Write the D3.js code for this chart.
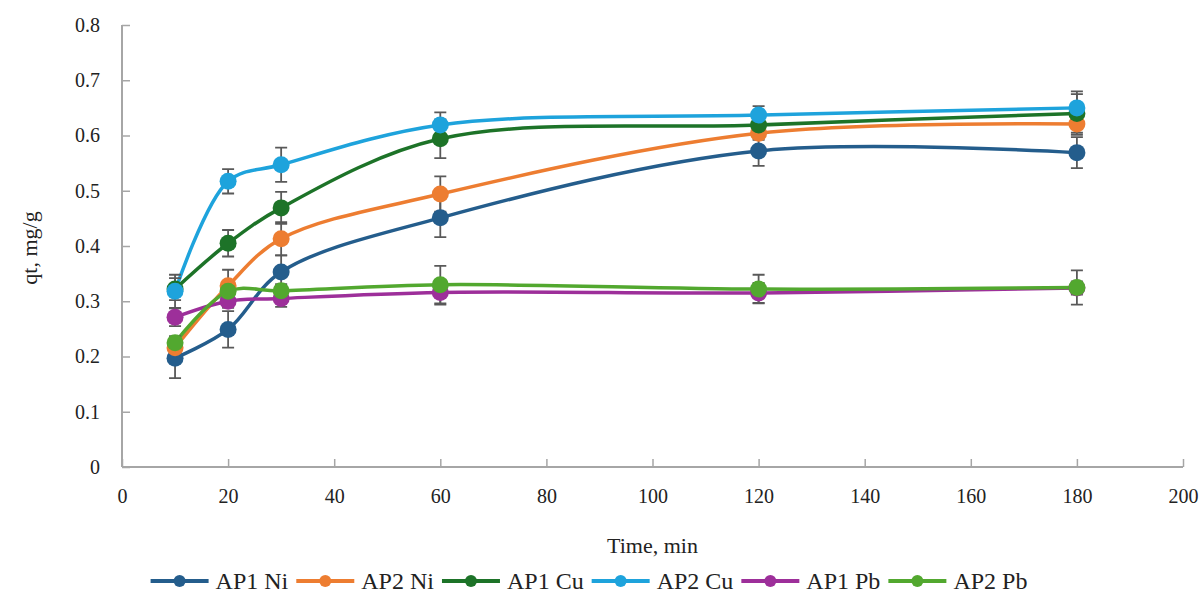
<!DOCTYPE html>
<html>
<head>
<meta charset="utf-8">
<script src="https://cdn.jsdelivr.net/npm/d3@7"></script>
<style>
  body { margin: 0; background: #fff; }
</style>
</head>
<body>
<svg id="chart" width="1203" height="603"></svg>
<script>
// time points (min)
const times = [10, 20, 30, 60, 120, 180];

const seriesNames = ["AP1 Ni", "AP2 Ni", "AP1 Cu", "AP2 Cu", "AP1 Pb", "AP2 Pb"];
const seriesColors = ["#245d8c", "#ed7d31", "#1d7328", "#1ea3dc", "#9d2f9a", "#52a82f"];

// qt values, mg/g
const ap1Ni = [0.197, 0.249, 0.353, 0.451, 0.572, 0.569];
const ap2Ni = [0.216, 0.328, 0.413, 0.494, 0.604, 0.621];
const ap1Cu = [0.322, 0.405, 0.469, 0.594, 0.619, 0.640];
const ap2Cu = [0.318, 0.517, 0.547, 0.619, 0.637, 0.650];
const ap1Pb = [0.271, 0.300, 0.305, 0.316, 0.315, 0.324];
const ap2Pb = [0.225, 0.318, 0.319, 0.330, 0.322, 0.325];

// error bar half widths
const ap1NiErr = [0.036, 0.033, 0.030, 0.035, 0.027, 0.028];
const ap2NiErr = [0.012, 0.029, 0.030, 0.032, 0.012, 0.020];
const ap1CuErr = [0.020, 0.024, 0.029, 0.035, 0.012, 0.035];
const ap2CuErr = [0.030, 0.022, 0.031, 0.023, 0.016, 0.030];
const ap1PbErr = [0.016, 0.012, 0.015, 0.022, 0.018, 0.012];
const ap2PbErr = [0.012, 0.010, 0.012, 0.034, 0.026, 0.031];

const xTicks = [0, 20, 40, 60, 80, 100, 120, 140, 160, 180, 200];
const yTicks = [0, 0.1, 0.2, 0.3, 0.4, 0.5, 0.6, 0.7, 0.8];

const values = [ap1Ni, ap2Ni, ap1Cu, ap2Cu, ap1Pb, ap2Pb];
const errors = [ap1NiErr, ap2NiErr, ap1CuErr, ap2CuErr, ap1PbErr, ap2PbErr];

const series = seriesNames.map((name, i) => ({
  name: name,
  color: seriesColors[i],
  points: times.map((t, j) => ({t: t, v: values[i][j], e: errors[i][j]}))
}));

const font = "'Liberation Serif', 'Times New Roman', serif";

const svg = d3.select("#chart");
const margin = {top: 25, right: 20, bottom: 136, left: 122};
const width = +svg.attr("width") - margin.left - margin.right;
const height = +svg.attr("height") - margin.top - margin.bottom;

const g = svg.append("g").attr("transform", "translate(" + margin.left + "," + margin.top + ")");

const x = d3.scaleLinear().domain([0, 200]).range([0, width]);
const y = d3.scaleLinear().domain([0, 0.8]).range([height, 0]);

const axisColor = "#a6a6a6";

// x axis, ticks pointing inward
const xAxis = g.append("g")
  .attr("transform", "translate(0," + height + ")")
  .call(d3.axisBottom(x).tickValues(xTicks).tickSize(-8).tickPadding(22).tickFormat(d3.format("d")));
xAxis.select(".domain").attr("stroke", axisColor).attr("stroke-width", 2).attr("d", "M0,0H" + width);
xAxis.selectAll(".tick line").attr("stroke", axisColor).attr("stroke-width", 1.5);
xAxis.selectAll(".tick text").style("font-size", "20px").style("font-family", font).attr("fill", "#222");

// y axis
const yAxis = g.append("g")
  .call(d3.axisLeft(y).tickValues(yTicks).tickSize(-8).tickPadding(22).tickFormat(d => d === 0 ? "0" : d3.format(".1f")(d)));
yAxis.select(".domain").attr("stroke", axisColor).attr("stroke-width", 2).attr("d", "M0," + height + "V0");
yAxis.selectAll(".tick line").attr("stroke", axisColor).attr("stroke-width", 1.5);
yAxis.selectAll(".tick text").style("font-size", "20px").style("font-family", font).attr("fill", "#222");

// axis titles
g.append("text")
  .attr("x", width / 2)
  .attr("y", height + 86)
  .attr("text-anchor", "middle")
  .style("font-size", "22px")
  .style("font-family", font)
  .attr("fill", "#222")
  .text("Time, min");

g.append("text")
  .attr("transform", "translate(-85," + (y(0.4) + 2) + ") rotate(-90)")
  .attr("text-anchor", "middle")
  .style("font-size", "22px")
  .style("font-family", font)
  .attr("fill", "#222")
  .text("qt, mg/g");

const line = d3.line()
  .x(d => x(d.t))
  .y(d => y(d.v))
  .curve(d3.curveCatmullRom.alpha(0.5));

// lines
g.selectAll(".series-line").data(series).enter().append("path")
  .attr("class", "series-line")
  .attr("d", d => line(d.points))
  .attr("fill", "none")
  .attr("stroke", d => d.color)
  .attr("stroke-width", 3.5);

// error bars
const errG = g.selectAll(".err").data(series).enter().append("g").attr("class", "err");
errG.selectAll("path").data(d => d.points).enter().append("path")
  .attr("d", d => {
    const cx = x(d.t), y1 = y(d.v + d.e), y0 = y(d.v - d.e);
    return "M" + cx + "," + y0 + "V" + y1 + "M" + (cx - 6) + "," + y1 + "H" + (cx + 6) + "M" + (cx - 6) + "," + y0 + "H" + (cx + 6);
  })
  .attr("fill", "none")
  .attr("stroke", "#595959")
  .attr("stroke-width", 1.8);

// markers
const markG = g.selectAll(".marks").data(series).enter().append("g").attr("class", "marks");
markG.selectAll("circle").data(d => d.points.map(p => Object.assign({color: d.color}, p))).enter().append("circle")
  .attr("cx", d => x(d.t))
  .attr("cy", d => y(d.v))
  .attr("r", 8.5)
  .attr("fill", d => d.color);

// legend
const legend = svg.append("g").attr("transform", "translate(0,581)");
const items = legend.selectAll(".item").data(series).enter().append("g").attr("class", "item");
items.append("line")
  .attr("x1", 0).attr("x2", 58).attr("y1", 0).attr("y2", 0)
  .attr("stroke", d => d.color).attr("stroke-width", 4);
items.append("circle")
  .attr("cx", 29).attr("cy", 0).attr("r", 6)
  .attr("fill", d => d.color);
items.append("text")
  .attr("x", 65).attr("y", 8)
  .style("font-size", "24px")
  .style("font-family", font)
  .attr("fill", "#222")
  .text(d => d.name);

let offset = 0;
const positions = [];
items.each(function() {
  const w = 65 + this.querySelector("text").getComputedTextLength();
  positions.push(offset);
  offset += w + 8;
});
const total = offset - 8;
const start = 589 - total / 2;
items.attr("transform", (d, i) => "translate(" + (start + positions[i]) + ",0)");
</script>
</body>
</html>
